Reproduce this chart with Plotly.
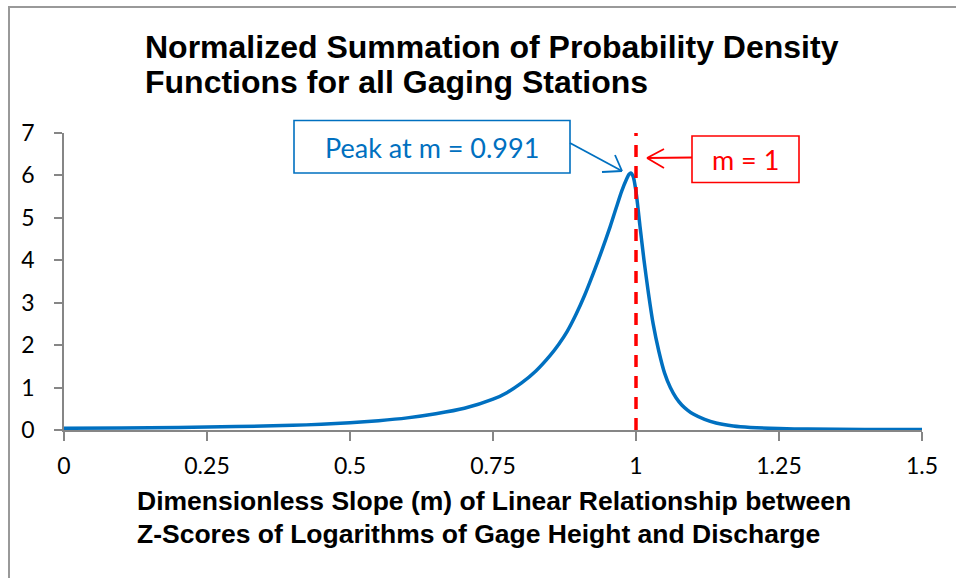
import plotly.graph_objects as go

# Data
m_values = [0, 0.1, 0.2, 0.3, 0.4, 0.45, 0.5, 0.55, 0.6, 0.65, 0.7, 0.75, 0.775, 0.8, 0.825,
            0.85, 0.865, 0.88, 0.895, 0.91, 0.925, 0.94, 0.955, 0.965, 0.975, 0.983, 0.988,
            0.991, 0.995, 1.0, 1.007, 1.014, 1.022, 1.03, 1.04, 1.05, 1.06, 1.07, 1.08,
            1.09, 1.1, 1.12, 1.14, 1.17, 1.2, 1.25, 1.3, 1.4, 1.5]
density = [0.04, 0.05, 0.06, 0.08, 0.11, 0.135, 0.17, 0.22, 0.286, 0.382, 0.511, 0.725, 0.886, 1.109, 1.39,
           1.757, 2.02, 2.33, 2.72, 3.17, 3.68, 4.22, 4.80, 5.22, 5.63, 5.90, 6.03,
           6.06, 5.98, 5.62, 4.80, 4.00, 3.20, 2.50, 1.85, 1.34, 1.00, 0.76, 0.59,
           0.47, 0.375, 0.25, 0.165, 0.095, 0.06, 0.033, 0.022, 0.013, 0.01]
x_ticks = [0, 0.25, 0.5, 0.75, 1, 1.25, 1.5]
x_tick_labels = ["0", "0.25", "0.5", "0.75", "1", "1.25", "1.5"]
y_ticks = [0, 1, 2, 3, 4, 5, 6, 7]
peak_m = 0.991
reference_m = 1.0

W, H = 956, 578
L, R, T, B = 64, 34, 133, 148
PW, PH = W - L - R, H - T - B

def xp(px):
    return (px - L) / PW

def yp(py):
    return (T + PH - py) / PH

BLUE = "#0070C0"
RED = "#FF0000"

fig = go.Figure()
fig.add_trace(go.Scatter(x=m_values, y=density, mode="lines",
                         line=dict(color=BLUE, width=3.5, shape="spline", smoothing=0.7),
                         hoverinfo="skip", showlegend=False, cliponaxis=False))
fig.add_trace(go.Scatter(x=[reference_m, reference_m], y=[0, 7], mode="lines",
                         line=dict(color=RED, width=3.5, dash="12px,9px"),
                         hoverinfo="skip", showlegend=False))

shapes = []
# outer chart border
shapes.append(dict(type="rect", xref="paper", yref="paper",
                   x0=xp(9), x1=xp(W + 20), y0=yp(H + 20), y1=yp(7),
                   line=dict(color="#999999", width=2), layer="below"))

def line_px(x0, y0, x1, y1, color, width=1.8):
    shapes.append(dict(type="line", xref="paper", yref="paper",
                       x0=xp(x0), y0=yp(y0), x1=xp(x1), y1=yp(y1),
                       line=dict(color=color, width=width)))

# blue callout box
shapes.append(dict(type="rect", xref="paper", yref="paper",
                   x0=xp(294), x1=xp(570), y0=yp(173), y1=yp(120.5),
                   line=dict(color=BLUE, width=1.6), fillcolor="white"))
line_px(570, 143, 622, 171, BLUE)
line_px(622, 171, 602, 172, BLUE)
line_px(622, 171, 615, 155, BLUE)

# red callout box
shapes.append(dict(type="rect", xref="paper", yref="paper",
                   x0=xp(692), x1=xp(799), y0=yp(182.5), y1=yp(136),
                   line=dict(color=RED, width=1.6), fillcolor="white"))
line_px(692, 157.5, 647, 158, RED)
line_px(647, 158, 664, 149, RED)
line_px(647, 158, 664, 168, RED)

annotations = [
    dict(xref="paper", yref="paper", x=xp(432), y=yp(147), xanchor="center", yanchor="middle",
         text=f"Peak at m = {peak_m}",
         showarrow=False, font=dict(family="Lato", size=27, color=BLUE)),
    dict(xref="paper", yref="paper", x=xp(745.5), y=yp(159), xanchor="center", yanchor="middle",
         text=f"m = {reference_m:g}",
         showarrow=False, font=dict(family="Lato", size=27, color=RED)),
    dict(xref="paper", yref="paper", x=xp(143), y=yp(47),
         xanchor="left", yanchor="middle", showarrow=False,
         text="<b>Normalized Summation of Probability Density</b>",
         font=dict(family="Liberation Sans, Arial", size=32, color="black")),
    dict(xref="paper", yref="paper", x=xp(143), y=yp(82),
         xanchor="left", yanchor="middle", showarrow=False,
         text="<b>Functions for all Gaging Stations</b>",
         font=dict(family="Liberation Sans, Arial", size=32, color="black")),
    dict(xref="paper", yref="paper", x=xp(135), y=yp(501),
         xanchor="left", yanchor="middle", showarrow=False,
         text="<b>Dimensionless Slope (m) of Linear Relationship between</b>",
         font=dict(family="Liberation Sans, Arial", size=26.5, color="black")),
    dict(xref="paper", yref="paper", x=xp(135), y=yp(534),
         xanchor="left", yanchor="middle", showarrow=False,
         text="<b>Z-Scores of Logarithms of Gage Height and Discharge</b>",
         font=dict(family="Liberation Sans, Arial", size=26.5, color="black")),
]

fig.update_layout(
    width=W, height=H,
    margin=dict(l=L, r=R, t=T, b=B, autoexpand=False),
    paper_bgcolor="white", plot_bgcolor="white",
    shapes=shapes, annotations=annotations,
    xaxis=dict(range=[0, 1.5], tickvals=x_ticks, ticktext=x_tick_labels,
               showgrid=False, zeroline=False, showline=True, linecolor="#868686", linewidth=1.5,
               ticks="outside", ticklen=9, tickcolor="#868686", tickwidth=1.5,
               tickfont=dict(family="Lato", size=23, color="black"), fixedrange=True),
    yaxis=dict(range=[0, 7], tickvals=y_ticks,
               showgrid=False, zeroline=False, showline=True, linecolor="#868686", linewidth=1.5,
               ticks="outside", ticklen=8, tickcolor="#868686", tickwidth=1.5,
               tickfont=dict(family="Lato", size=23, color="black"), fixedrange=True),
)
fig.update_xaxes(ticklabelstandoff=6)
fig.update_yaxes(ticklabelstandoff=15)

fig.write_html("out.html", config={"displayModeBar": False},
               post_script="document.body.style.margin='0';")
